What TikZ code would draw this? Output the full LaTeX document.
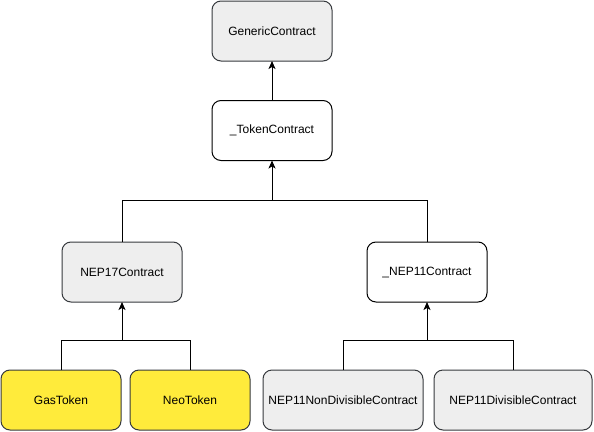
\documentclass[tikz,border=0pt]{standalone}
\usepackage{fontspec}
\setmainfont{Liberation Sans}
\usetikzlibrary{arrows.meta}
\definecolor{boxgray}{HTML}{EEEEEE}
\definecolor{boxstroke}{HTML}{36393D}
\definecolor{tokyellow}{HTML}{FFEB3B}
\tikzset{
  box/.style={draw=boxstroke, line width=1pt, rounded corners=9pt, minimum height=60pt,
    minimum width=120pt, inner sep=0pt, outer sep=0pt, font=\fontsize{12}{14}\selectfont},
  graybox/.style={box, fill=boxgray},
  whitebox/.style={box, fill=white, draw=black},
  yellowbox/.style={box, fill=tokyellow},
  link/.style={draw=black, line width=1pt},
  arr/.style={link, -{Stealth[length=8pt,width=7pt,inset=2pt]}}
}
\begin{document}
\begin{tikzpicture}[x=1pt,y=-1pt]
\useasboundingbox (0,0) rectangle (594,431);
\node[graybox] (generic) at (272,31) {GenericContract};
\node[whitebox] (token) at (272,130.5) {\_TokenContract};
\node[graybox] (nep17) at (122,272) {NEP17Contract};
\node[whitebox] (nep11) at (427,272) {\_NEP11Contract};
\node[yellowbox] (gas) at (61,400) {GasToken};
\node[yellowbox] (neo) at (190,400) {NeoToken};
\node[graybox, minimum width=160pt] (nondiv) at (343,400) {NEP11NonDivisibleContract};
\node[graybox, minimum width=158pt] (div) at (513,400) {NEP11DivisibleContract};
\coordinate (j0) at (272,200);
\coordinate (j1) at (122,340);
\coordinate (j2) at (427,340);
\draw[arr] (token.north) -- (generic.south);
\draw[link] (nep17.north) |- (j0);
\draw[link] (nep11.north) |- (j0);
\draw[arr] (j0) -- (token.south);
\draw[link] (gas.north) |- (j1);
\draw[link] (neo.north) |- (j1);
\draw[arr] (j1) -- (nep17.south);
\draw[link] (nondiv.north) |- (j2);
\draw[link] (div.north) |- (j2);
\draw[arr] (j2) -- (nep11.south);
\end{tikzpicture}
\end{document}
